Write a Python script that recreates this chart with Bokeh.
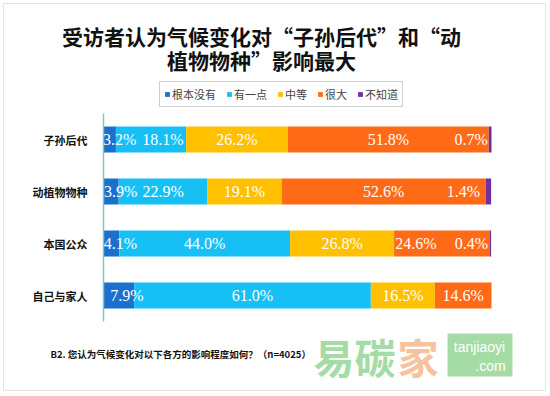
from bokeh.plotting import figure
from bokeh.models import (ColumnDataSource, Range1d, Label, Legend, LegendItem,
                          FixedTicker, BoxAnnotation)
from bokeh.core.properties import value
from bokeh.embed import file_html
from bokeh.resources import INLINE

# ---- data ----
categories = ["子孙后代", "动植物物种", "本国公众", "自己与家人"]
series = ["根本没有", "有一点", "中等", "很大", "不知道"]
none_at_all = [3.2, 3.9, 4.1, 7.9]
a_little = [18.1, 22.9, 44.0, 61.0]
moderate = [26.2, 19.1, 26.8, 16.5]
a_lot = [51.8, 52.6, 24.6, 14.6]
dont_know = [0.7, 1.4, 0.4, 0.0]

title_lines = ["受访者认为气候变化对“子孙后代”和“动", "植物物种”影响最大"]
footnote = "B2. 您认为气候变化对以下各方的影响程度如何？（n=4025）"

colors = ["#1A70CC", "#17C0F4", "#FFC000", "#FF6A17", "#7030A0"]
CJK = "Noto Sans CJK SC"

# manual data-label nudges (screen px), as in the original chart
nudge = {
    ("子孙后代", "根本没有"): 10, ("子孙后代", "有一点"): 12, ("子孙后代", "不知道"): -19,
    ("动植物物种", "根本没有"): 9.5, ("动植物物种", "不知道"): -25,
    ("本国公众", "根本没有"): 9, ("本国公众", "很大"): -26, ("本国公众", "不知道"): -19,
    ("自己与家人", "根本没有"): 8,
}

# ---- layout geometry (pixels) ----
W, H = 550, 396
X0, X100 = 103, 491          # pixel position of 0% and 100%
ROW0, STEP = 139, 52         # centre of first row, row pitch
sx = (X100 - X0) / 100.0
n = len(categories)
ypos = [n - 1 - i for i in range(n)]

values = [none_at_all, a_little, moderate, a_lot, dont_know]
data = {"y": ypos}
for s, v in zip(series, values):
    data[s] = v
source = ColumnDataSource(data)

p = figure(width=W, height=H, output_backend="svg", toolbar_location=None,
           x_range=Range1d(-X0 / sx, (W - X0) / sx),
           y_range=Range1d((n - 1) - (H - ROW0) / STEP, (n - 1) + ROW0 / STEP),
           min_border=0, min_border_left=0, min_border_right=0,
           min_border_top=0, min_border_bottom=0)
p.outline_line_color = None
p.background_fill_color = "white"
p.border_fill_color = "white"
p.xgrid.visible = False
p.ygrid.visible = False
p.xaxis.visible = False

renderers = p.hbar_stack(series, y="y", height=0.5, color=colors, line_color=None,
                         source=source)

# value labels
lx, ly, lt, ldx = [], [], [], []
for i, c in enumerate(categories):
    cum = 0.0
    for s, v in zip(series, values):
        val = v[i]
        if val > 0:
            lx.append(cum + val / 2)
            ly.append(ypos[i])
            lt.append(f"{val:.1f}%")
            ldx.append(nudge.get((c, s), 0))
        cum += val
lsrc = ColumnDataSource(dict(x=lx, y=ly, t=lt, dx=ldx))
p.text(x="x", y="y", text="t", x_offset="dx", source=lsrc, text_color="white",
       text_align="center", text_baseline="middle", text_font_size="16px",
       text_font=value("Liberation Serif"))

# category axis, drawn at x = 0
yax = p.yaxis[0]
yax.fixed_location = 0
yax.ticker = FixedTicker(ticks=ypos)
yax.major_label_overrides = {yv: c for yv, c in zip(ypos, categories)}
yax.bounds = (min(ypos) - 0.5, max(ypos) + 0.5)
yax.axis_line_color = "#8CC4BE"
yax.axis_line_width = 1.5
yax.major_tick_line_color = None
yax.minor_tick_line_color = None
yax.major_label_standoff = 10
yax.major_label_text_font = CJK
yax.major_label_text_font_size = "11px"
yax.major_label_text_font_style = "bold"
yax.major_label_text_color = "#111111"

legend = Legend(items=[LegendItem(label=s, renderers=[r]) for s, r in zip(series, renderers)],
                orientation="horizontal", location=(159, H - 107), margin=0,
                label_text_font=CJK, label_text_font_size="11px",
                glyph_width=6, glyph_height=6, label_standoff=2, spacing=10,
                padding=4, label_height=12, border_line_color="#A0A0A0",
                border_line_width=1)
p.add_layout(legend, "center")

def lab(text, x, y, size, color="#111111", align="left", bold=False, font=CJK):
    return Label(x=x, y=H - y, x_units="screen", y_units="screen", text=text,
                 text_font=font, text_font_size=f"{size}px",
                 text_font_style="bold" if bold else "normal",
                 text_align=align, text_baseline="middle", text_color=color)

p.add_layout(lab(title_lines[0], 261, 35, 21, align="center", bold=True))
p.add_layout(lab(title_lines[1], 261, 59, 21, align="center", bold=True))
p.add_layout(lab(footnote, 50, 353, 9.5, bold=True))

# watermark
p.add_layout(lab("易碳", 313, 355, 41, color="#A5DBA5", bold=True))
p.add_layout(lab("家", 397, 355, 41, color="#F6C39E", bold=True))
p.add_layout(BoxAnnotation(left=(447 - X0) / sx, right=(512 - X0) / sx,
                           top=(n - 1) + (ROW0 - 333) / STEP,
                           bottom=(n - 1) + (ROW0 - 376) / STEP,
                           fill_color="#A5DBA5", fill_alpha=1, line_color=None))
p.add_layout(lab("tanjiaoyi", 479, 346, 14, color="white", align="center",
                 font="Liberation Sans"))
p.add_layout(lab(".com", 490, 365, 14, color="white", align="center",
                 font="Liberation Sans"))

# outer frame
p.add_layout(BoxAnnotation(left=(3 - X0) / sx, right=(545 - X0) / sx,
                           top=(n - 1) + (ROW0 - 3) / STEP,
                           bottom=(n - 1) + (ROW0 - 390) / STEP,
                           fill_color=None, fill_alpha=0, line_color="#A6A6A6",
                           line_width=1))

open("out.html", "w").write(file_html(p, INLINE))
